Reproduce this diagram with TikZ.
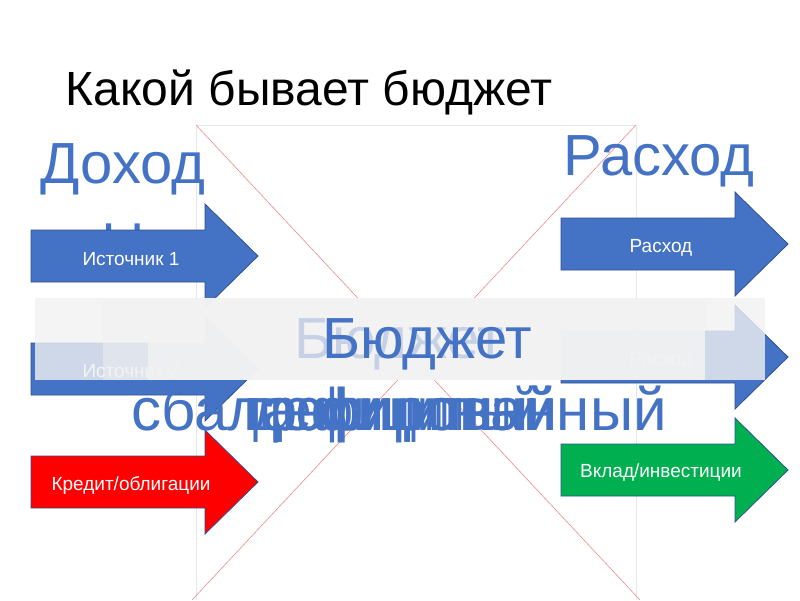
\documentclass[tikz,border=0pt]{standalone}
\usepackage{fontspec}
\setmainfont{Liberation Sans}
\definecolor{pblue}{HTML}{4472C4}
\definecolor{pedge}{HTML}{2F528F}
\definecolor{pred}{HTML}{FF0000}
\definecolor{pgreen}{HTML}{00B050}
\definecolor{bandgrey}{HTML}{F2F2F2}
\definecolor{xred}{HTML}{F08A8A}
\definecolor{framegrey}{HTML}{E6E6E6}
\newcommand{\fatarrow}[3]{\draw[#1] (#3,#2-26) -- (#3+174,#2-26) -- (#3+174,#2-52) -- (#3+227,#2) -- (#3+174,#2+52) -- (#3+174,#2+26) -- (#3,#2+26) -- cycle;}
\tikzset{
  arrowbox/.style={line width=0.8pt, draw=pedge},
  arrowtext/.style={anchor=base, text=white, font=\fontsize{19}{21}\selectfont},
  bigblue/.style={anchor=base, text=pblue, font=\fontsize{58}{62}\selectfont},
  hugeblue/.style={anchor=base, text=pblue, font=\fontsize{60}{64}\selectfont},
}
\begin{document}
\begin{tikzpicture}[x=1pt,y=-1pt]
\useasboundingbox (0,0) rectangle (800,600);
\fill[white] (0,0) rectangle (800,600);
% placeholder frame with red cross
\coordinate (tl) at (196,125);
\coordinate (tr) at (636,125);
\coordinate (bl) at (196,600);
\coordinate (br) at (640,600);
\coordinate (bl2) at (192,600);
\draw[framegrey, line width=1pt] (bl) -- (tl) -- (tr) -- (636,600);
\draw[xred, line width=0.6pt] (tl) -- (br);
\draw[xred, line width=0.6pt] (tr) -- (bl2);
% hidden second line of "Доходы"
\node[bigblue] (yline) at (123,254) {ы};
% arrows
\fatarrow{arrowbox, fill=pblue}{256}{31}
\node[arrowtext] (src1) at (131,265) {Источник 1};
\fatarrow{arrowbox, fill=pblue}{369}{31}
\node[arrowtext] (src2) at (131,377) {Источник 2};
\fatarrow{arrowbox, fill=pred}{482}{31}
\node[arrowtext] (credit) at (131,490) {Кредит/облигации};
\fatarrow{arrowbox, fill=pblue}{244}{561}
\node[arrowtext] (exp1) at (661,252) {Расход};
\fatarrow{arrowbox, fill=pblue}{357}{561}
\node[arrowtext] (exp2) at (661,365) {Расход};
\fatarrow{arrowbox, fill=pgreen}{470}{561}
\node[arrowtext] (deposit) at (661,477) {Вклад/инвестиции};
% semi-transparent band
\fill[bandgrey, opacity=0.8] (35,298) rectangle (765,380);
\fill[bandgrey, opacity=0.5] (103,298) rectangle (148,380);
\fill[bandgrey, opacity=0.9] (148,298) rectangle (705,380);
% budget texts
\node[bigblue, opacity=0.25] (ghost) at (399,358) {Бюджет};
\node[bigblue] (budget) at (427,358) {Бюджет};
\node[bigblue] (dohod) at (123,183) {Доход};
\node[bigblue] (rashod) at (659,175) {Расход};
\node[anchor=base west, font=\fontsize{48}{52}\selectfont] (title) at (62,105) {Какой бывает бюджет};
% overlapping bottom words
\node[hugeblue] (bal) at (399,430) {сбалансированный};
\node[hugeblue] (prof) at (399,430) {\scalebox{0.8}[1]{профицитный}};
\node[hugeblue] (def) at (405,430) {\scalebox{0.85}[1]{дефицитный}};
\node[hugeblue] (prof2) at (392,430) {\scalebox{0.75}[1]{профицитный}};
\end{tikzpicture}
\end{document}
